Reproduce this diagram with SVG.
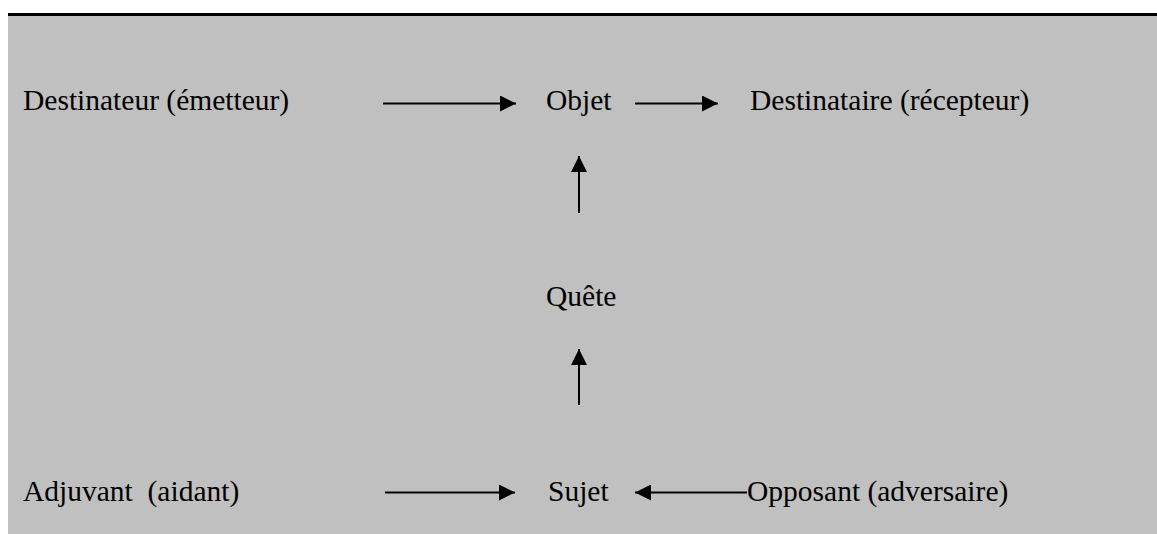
<svg xmlns="http://www.w3.org/2000/svg" width="1157" height="534" viewBox="0 0 1157 534">
<style>
.t{font-family:"Liberation Serif","Times New Roman",serif;font-size:29.5px;fill:#000}
.c{stroke:#000;stroke-width:2;fill:none}
</style>
<defs>
<marker id="ah" markerUnits="userSpaceOnUse" markerWidth="18" markerHeight="16" refX="16" refY="8" orient="auto">
<path d="M0,0 L16,8 L0,16 Z" fill="#000"/>
</marker>
</defs>
<rect x="0" y="0" width="1157" height="534" fill="#fff"/>
<rect x="8" y="16" width="1149" height="518" fill="#c0c0c0"/>
<rect x="8" y="13" width="1149" height="3" fill="#000"/>
<g id="connectors">
<line class="c" x1="383" y1="103.5" x2="516" y2="103.5" marker-end="url(#ah)"/>
<line class="c" x1="635" y1="103.5" x2="718" y2="103.5" marker-end="url(#ah)"/>
<line class="c" x1="579" y1="213" x2="579" y2="156" marker-end="url(#ah)"/>
<line class="c" x1="579" y1="405" x2="579" y2="349" marker-end="url(#ah)"/>
<line class="c" x1="385" y1="492.5" x2="515" y2="492.5" marker-end="url(#ah)"/>
<line class="c" x1="747" y1="492.5" x2="635" y2="492.5" marker-end="url(#ah)"/>
</g>
<g id="destinateur"><text class="t" x="23" y="110">Destinateur (émetteur)</text></g>
<g id="objet"><text class="t" x="546" y="110">Objet</text></g>
<g id="destinataire"><text class="t" x="750" y="110">Destinataire (récepteur)</text></g>
<g id="quete"><text class="t" x="546" y="306">Quête</text></g>
<g id="adjuvant"><text class="t" x="23" y="501" xml:space="preserve">Adjuvant  (aidant)</text></g>
<g id="sujet"><text class="t" x="548" y="501">Sujet</text></g>
<g id="opposant"><text class="t" x="747" y="501">Opposant (adversaire)</text></g>
</svg>
